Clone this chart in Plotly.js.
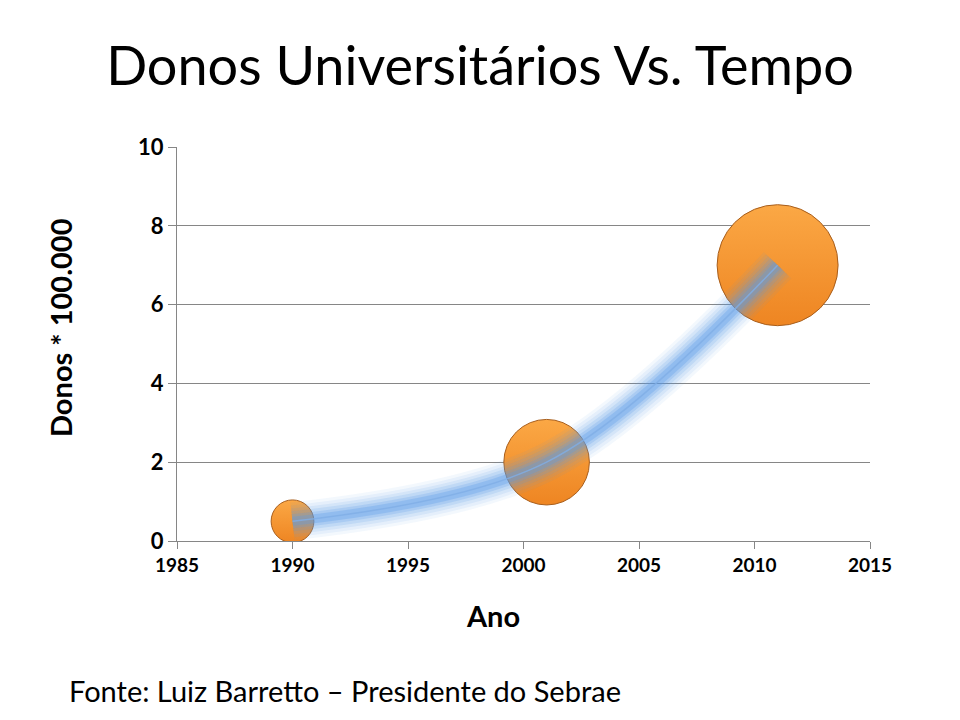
<!DOCTYPE html>
<html>
<head>
<meta charset="utf-8">
<script src="https://cdn.plot.ly/plotly-3.0.1.min.js"></script>
<style>html,body{margin:0;padding:0;background:#fff;}#chart{width:960px;height:720px;}</style>
</head>
<body>
<div id="chart"></div>
<script>
// Data
const years = [1990, 2001, 2011];
const donos = [0.5, 2, 7];
const bubbleSize = [1, 4, 8];
const xTicks = [1985, 1990, 1995, 2000, 2005, 2010, 2015];
const yTicks = [0, 2, 4, 6, 8, 10];

const titleText = 'Donos Universitários Vs. Tempo';
const xTitle = 'Ano';
const yTitle = 'Donos * 100.000';
const sourceText = 'Fonte: Luiz Barretto – Presidente do Sebrae';

const FONT = 'Lato, "Open Sans", sans-serif';

const traces = [];
traces.push({
  x: years, y: donos, type: 'scatter', mode: 'markers', hoverinfo: 'skip',
  marker: {
    size: bubbleSize, sizemode: 'area', sizeref: 0.001093,
    color: '#FBA845',
    gradient: {type: 'vertical', color: '#EE8522'},
    line: {color: '#A85E1C', width: 1},
    opacity: 1
  },
  showlegend: false
});
// glow layers of the smooth line
const glow = [[38, 0.07], [32, 0.09], [26, 0.12], [20, 0.16], [14, 0.22], [9, 0.3]];
glow.forEach(function (g) {
  traces.push({
    x: years, y: donos, type: 'scatter', mode: 'lines', hoverinfo: 'skip',
    line: {shape: 'spline', smoothing: 1, color: '#5A9BE8', width: g[0]},
    opacity: g[1], showlegend: false
  });
});
traces.push({
  x: years, y: donos, type: 'scatter', mode: 'lines', hoverinfo: 'skip',
  line: {shape: 'spline', smoothing: 1, color: '#7FAEE6', width: 1.5},
  opacity: 0.8, showlegend: false
});

const layout = {
  width: 960, height: 720,
  paper_bgcolor: '#ffffff', plot_bgcolor: '#ffffff',
  margin: {l: 177, r: 90, t: 147, b: 179},
  font: {family: FONT, color: '#000000'},
  title: {
    text: titleText, font: {family: FONT, size: 54, color: '#000000'},
    x: 0.5, xanchor: 'center', y: 1 - 66 / 720, yanchor: 'middle', xref: 'container', yref: 'container'
  },
  xaxis: {
    range: [1985, 2015], tickvals: xTicks, ticktext: xTicks.map(String),
    showgrid: false, zeroline: false,
    showline: true, linecolor: '#868686', linewidth: 1,
    ticks: 'outside', ticklen: 7, tickcolor: '#868686',
    tickfont: {family: FONT, size: 19, color: '#000000', weight: 'bold'}
  },
  yaxis: {
    range: [0, 10], tickvals: yTicks, ticktext: yTicks.map(String),
    showgrid: true, gridcolor: '#868686', gridwidth: 1, zeroline: false,
    showline: true, linecolor: '#868686', linewidth: 1,
    ticks: 'outside', ticklen: 8, tickcolor: '#868686',
    tickfont: {family: FONT, size: 22, color: '#000000', weight: 'bold'}
  },
  annotations: [
    {text: '<b>' + xTitle + '</b>', xref: 'paper', yref: 'paper', x: (493 - 177) / 693, y: -(615 - 541) / 394,
     xanchor: 'center', yanchor: 'middle', showarrow: false, font: {family: FONT, size: 29, color: '#000'}},
    {text: '<b>' + yTitle + '</b>', xref: 'paper', yref: 'paper', x: -(177 - 60) / 693, y: (541 - 328) / 394,
     xanchor: 'center', yanchor: 'middle', textangle: -90, showarrow: false, font: {family: FONT, size: 29, color: '#000'}},
    {text: sourceText, xref: 'paper', yref: 'paper', x: -(177 - 67) / 693, y: -(690 - 541) / 394,
     xanchor: 'left', yanchor: 'middle', showarrow: false, font: {family: FONT, size: 29, color: '#000'}}
  ]
};

Plotly.newPlot('chart', traces, layout, {staticPlot: true, displayModeBar: false});
</script>
</body>
</html>
